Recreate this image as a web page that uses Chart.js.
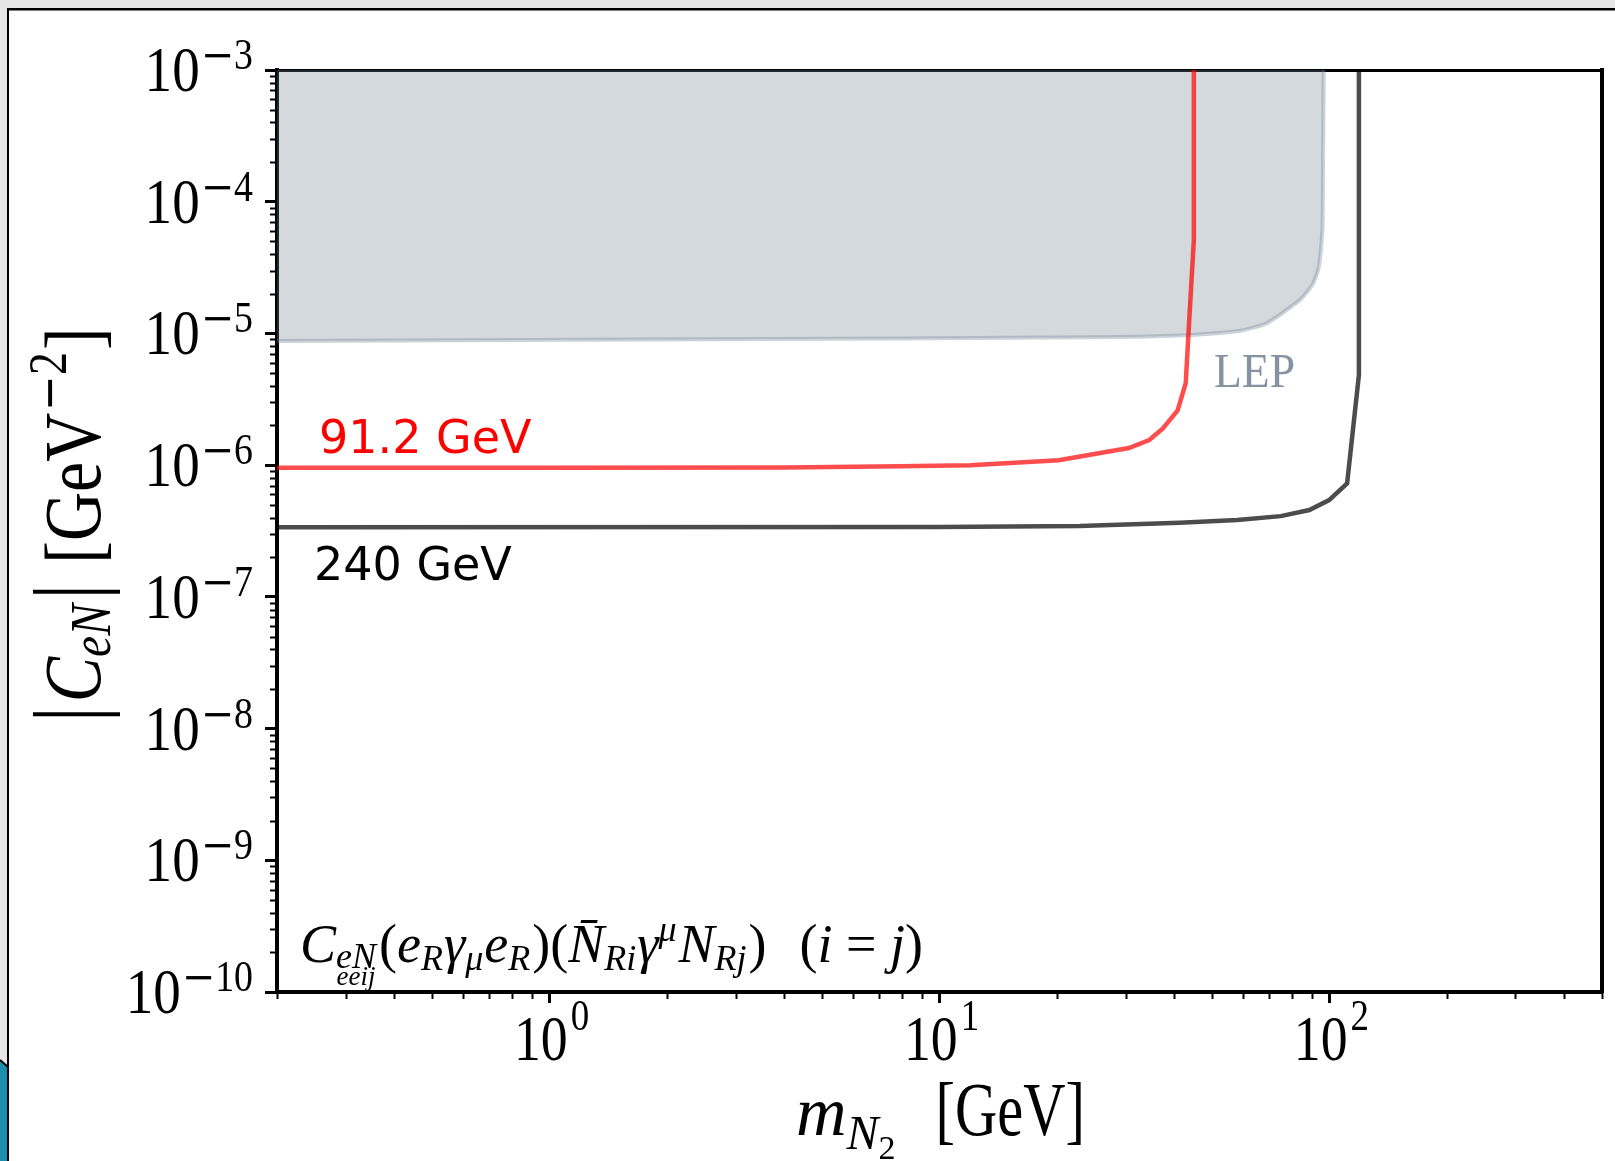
<!DOCTYPE html>
<html>
<head>
<meta charset="utf-8">
<title>|C_eN| vs m_N2</title>
<script src="https://cdn.jsdelivr.net/npm/chart.js@4.4.1/dist/chart.umd.min.js"></script>
<style>
  html, body { margin: 0; padding: 0; background: #fff; }
  #wrap { position: relative; width: 1615px; height: 1161px; }
</style>
</head>
<body>
<div id="wrap"><canvas id="chart"></canvas></div>
<script>
// ---- values (mass in GeV, coupling in GeV^-2) ----
const massRed     = [0.2, 1, 4, 7.9, 12, 20.2, 30.6, 34.5, 37.4, 40.8, 42.8, 43.5, 44.9, 44.9];
const couplingRed = [9.55e-7, 9.55e-7, 9.6e-7, 9.8e-7, 1.0e-6, 1.09e-6, 1.35e-6, 1.55e-6, 1.9e-6, 2.6e-6, 4.2e-6, 1.0e-5, 5.1e-5, 1e-3];

const massBlack     = [0.2, 10, 22.9, 41.3, 58, 75, 88.8, 99.8, 111, 119, 119];
const couplingBlack = [3.37e-7, 3.39e-7, 3.45e-7, 3.66e-7, 3.83e-7, 4.1e-7, 4.56e-7, 5.43e-7, 7.28e-7, 4.83e-6, 1e-3];

const massLEP     = [0.2, 7.9, 19.2, 32.6, 46.5, 58.9, 68.3, 74.6, 80.1, 84.0, 88.0, 90.8, 93.4, 94.5, 96.0, 96.3, 96.7];
const couplingLEP = [8.75e-6, 9.14e-6, 9.31e-6, 9.44e-6, 9.82e-6, 1.047e-5, 1.178e-5, 1.38e-5, 1.614e-5, 1.795e-5, 2.099e-5, 2.399e-5, 2.979e-5, 3.606e-5, 6.457e-5, 2.075e-4, 1e-3];

// axis ticks
const xTickValues    = [1, 10, 100];
const xTickExponents = ['0', '1', '2'];
const yTickValues    = [1e-3, 1e-4, 1e-5, 1e-6, 1e-7, 1e-8, 1e-9, 1e-10];
const yTickExponents = ['3', '4', '5', '6', '7', '8', '9', '10'];

const SERIF = '"Liberation Serif", "Times New Roman", serif';
const SANS = '"DejaVu Sans", sans-serif';
const MINUS_FONT = '"DejaVu Serif", serif';

function toPoints(xs, ys) {
    return xs.map((x, i) => ({ x: x, y: ys[i] }));
}

// minor tick values k*10^d inside [min, max], decades excluded
function minorValues(min, max) {
    const out = [];
    for (let d = Math.floor(Math.log10(min)); d <= Math.ceil(Math.log10(max)); d++) {
        for (let k = 2; k <= 9; k++) {
            const v = k * Math.pow(10, d);
            if (v >= min * 0.999 && v <= max * 1.001) out.push(v);
        }
    }
    return out;
}

function fontOf(r) {
    return (r.it ? 'italic ' : '') + r.s + 'px ' + (r.f || SERIF);
}

// draw a small run of "math" text: sub/superscripts via dy offsets
function drawMath(ctx, runs, x, y, opts) {
    let pos = 0, prevStart = 0, prevW = 0;
    const items = [];
    runs.forEach(r => {
        const sx = r.sx || opts.sx || 1;
        ctx.font = fontOf(r);
        const w = ctx.measureText(r.t).width * sx;
        let start;
        if (r.under) {
            start = prevStart + (prevW - w) / 2;
            pos = Math.max(pos, start + w);
        } else {
            start = pos + (r.gap || 0);
            pos = start + w;
            prevStart = start;
            prevW = w;
        }
        items.push({ r: r, start: start, sx: sx });
    });
    const x0 = opts.align === 'center' ? -pos / 2 : (opts.align === 'right' ? -pos : 0);
    ctx.save();
    ctx.translate(x, y);
    if (opts.rot) ctx.rotate(opts.rot);
    ctx.fillStyle = opts.color || '#000';
    ctx.textAlign = 'left';
    ctx.textBaseline = 'alphabetic';
    items.forEach(it => {
        ctx.save();
        ctx.font = fontOf(it.r);
        ctx.translate(x0 + it.start, it.r.dy || 0);
        ctx.scale(it.sx, 1);
        ctx.fillText(it.r.t, 0, 0);
        ctx.restore();
    });
    ctx.restore();
}

// page background + slide frame
const pagePlugin = {
    id: 'page',
    beforeDraw(chart) {
        const ctx = chart.ctx, W = chart.width, H = chart.height;
        ctx.save();
        ctx.fillStyle = '#ffffff';
        ctx.fillRect(0, 0, W, H);
        ctx.fillStyle = '#e6e6e6';
        ctx.fillRect(0, 0, W, 8);
        ctx.fillRect(0, 0, 8, H);
        ctx.fillStyle = '#1b8fae';
        ctx.beginPath();
        ctx.moveTo(0, 1060); ctx.lineTo(8, 1067); ctx.lineTo(8, H); ctx.lineTo(0, H);
        ctx.closePath();
        ctx.fill();
        ctx.strokeStyle = '#000';
        ctx.lineWidth = 2;
        ctx.beginPath();
        ctx.moveTo(0, 1060); ctx.lineTo(8, 1067);
        ctx.stroke();
        ctx.fillStyle = '#000';
        ctx.fillRect(7, 8, W - 7, 2.5);
        ctx.fillRect(7, 8, 2, H - 8);
        ctx.restore();
    }
};

// minor ticks, tick labels, axis titles and in-plot labels
const textPlugin = {
    id: 'texts',
    afterDraw(chart) {
        const ctx = chart.ctx;
        const xs = chart.scales.x, ys = chart.scales.y;
        const area = chart.chartArea;

        // minor ticks
        ctx.save();
        ctx.strokeStyle = '#000';
        ctx.lineWidth = 2;
        minorValues(1e-10, 1e-3).forEach(v => {
            const py = Math.round(ys.getPixelForValue(v)) + 0.5;
            ctx.beginPath();
            ctx.moveTo(area.left - 7, py);
            ctx.lineTo(area.left, py);
            ctx.stroke();
        });
        minorValues(0.2, 500).forEach(v => {
            const px = Math.round(xs.getPixelForValue(v)) + 0.5;
            ctx.beginPath();
            ctx.moveTo(px, area.bottom);
            ctx.lineTo(px, area.bottom + 7);
            ctx.stroke();
        });
        ctx.restore();

        // y tick labels 10^-k
        yTickValues.forEach((v, i) => {
            const py = ys.getPixelForValue(v);
            drawMath(ctx, [
                { t: '10', s: 64, sx: 0.86 },
                { t: '−', s: 42, f: MINUS_FONT, dy: -22, gap: 1, sx: 0.95 },
                { t: yTickExponents[i], s: 44, dy: -22, sx: 0.86 }
            ], area.left - 24, py + 21, { align: 'right' });
        });

        // x tick labels 10^k
        xTickValues.forEach((v, i) => {
            const px = xs.getPixelForValue(v);
            drawMath(ctx, [
                { t: '10', s: 64, sx: 0.84 },
                { t: xTickExponents[i], s: 44, dy: -30, gap: 3, sx: 0.84 }
            ], px + 2, area.bottom + 68, { align: 'center' });
        });

        // x axis title
        drawMath(ctx, [
            { t: 'm', s: 70, it: true, sx: 1.0 },
            { t: 'N', s: 48, it: true, dy: 14, sx: 1.0 },
            { t: '2', s: 34, dy: 24, sx: 1.0 },
            { t: '[GeV]', s: 76, gap: 40, sx: 0.77 }
        ], 796, 1135, { align: 'left' });

        // y axis title (rotated)
        drawMath(ctx, [
            { t: '|', s: 96 },
            { t: 'C', s: 80, it: true, gap: 4 },
            { t: 'eN', s: 56, it: true, dy: 10 },
            { t: '|', s: 96, gap: 4 },
            { t: '[GeV', s: 80, gap: 20 },
            { t: '−', s: 50, f: MINUS_FONT, dy: -34, gap: 2 },
            { t: '2', s: 54, dy: -34 },
            { t: ']', s: 80, gap: 2 }
        ], 100, 525, { align: 'center', rot: -Math.PI / 2, sx: 0.85 });

        // operator annotation
        drawMath(ctx, [
            { t: 'C', s: 54, it: true },
            { t: 'eN', s: 36, it: true, dy: 6 },
            { t: 'eeij', s: 27, it: true, dy: 23, under: true },
            { t: '(', s: 54, gap: 3 },
            { t: 'e', s: 54, it: true },
            { t: 'R', s: 36, it: true, dy: 8 },
            { t: 'γ', s: 54, it: true, gap: 1 },
            { t: 'μ', s: 36, it: true, dy: 8 },
            { t: 'e', s: 54, it: true, gap: 1 },
            { t: 'R', s: 36, it: true, dy: 8 },
            { t: ')(', s: 54, gap: 2 },
            { t: 'N\u0304', s: 54, it: true },
            { t: 'Ri', s: 36, it: true, dy: 8 },
            { t: 'γ', s: 54, it: true, gap: 1 },
            { t: 'μ', s: 36, it: true, dy: -21 },
            { t: 'N', s: 54, it: true, gap: 2 },
            { t: 'Rj', s: 36, it: true, dy: 8 },
            { t: ')', s: 54, gap: 2 },
            { t: '(', s: 54, gap: 33 },
            { t: 'i', s: 54, it: true },
            { t: ' = ', s: 54 },
            { t: 'j', s: 54, it: true },
            { t: ')', s: 54 }
        ], 300, 962, { align: 'left', sx: 1 });

        // curve labels
        ctx.save();
        ctx.font = '46px ' + SANS;
        ctx.textAlign = 'left';
        ctx.textBaseline = 'alphabetic';
        ctx.fillStyle = '#ff0000';
        ctx.fillText('91.2 GeV', 319, 453);
        ctx.fillStyle = '#000000';
        ctx.fillText('240 GeV', 314, 580);
        ctx.restore();

        drawMath(ctx, [{ t: 'LEP', s: 48 }], 1214, 387, { align: 'left', sx: 0.95, color: 'rgba(112,128,144,0.85)' });
    }
};

const chart = new Chart(document.getElementById('chart'), {
    type: 'line',
    data: {
        datasets: [
            {
                label: '91.2 GeV',
                data: toPoints(massRed, couplingRed),
                borderColor: 'rgba(255,0,0,0.7)',
                borderWidth: 4.5,
                pointRadius: 0,
                fill: false,
                order: 1
            },
            {
                label: '240 GeV',
                data: toPoints(massBlack, couplingBlack),
                borderColor: 'rgba(0,0,0,0.7)',
                borderWidth: 4.5,
                pointRadius: 0,
                fill: false,
                order: 2
            },
            {
                label: 'LEP',
                data: toPoints(massLEP, couplingLEP),
                borderColor: 'rgba(112,128,144,0.35)',
                backgroundColor: 'rgba(112,128,144,0.3)',
                borderWidth: 4,
                pointRadius: 0,
                tension: 0.2,
                fill: 'end',
                order: 3
            }
        ]
    },
    options: {
        responsive: true,
        maintainAspectRatio: false,
        animation: false,
        devicePixelRatio: 1,
        layout: { padding: 0 },
        plugins: {
            legend: { display: false },
            tooltip: { enabled: false }
        },
        scales: {
            x: {
                type: 'logarithmic',
                position: 'bottom',
                min: 0.2,
                max: 500,
                afterBuildTicks: s => { s.ticks = xTickValues.map(v => ({ value: v })); },
                afterFit: s => { s.height = 169; },
                ticks: { display: false },
                grid: { display: true, drawOnChartArea: false, drawTicks: true, tickLength: 11, tickWidth: 3, tickColor: '#000' },
                border: { display: true, color: '#000', width: 4 }
            },
            y: {
                type: 'logarithmic',
                position: 'left',
                min: 1e-10,
                max: 1e-3,
                afterBuildTicks: s => { s.ticks = yTickValues.map(v => ({ value: v })); },
                afterFit: s => { s.width = 277; },
                ticks: { display: false },
                grid: { display: true, drawOnChartArea: false, drawTicks: true, tickLength: 12, tickWidth: 3, tickColor: '#000' },
                border: { display: true, color: '#000', width: 4 }
            },
            xTop: {
                type: 'linear',
                position: 'top',
                min: 0,
                max: 1,
                afterFit: s => { s.height = 70; },
                ticks: { display: false },
                grid: { display: false },
                border: { display: true, color: '#000', width: 3 }
            },
            yRight: {
                type: 'linear',
                position: 'right',
                min: 0,
                max: 1,
                afterFit: s => { s.width = 13; },
                ticks: { display: false },
                grid: { display: false },
                border: { display: true, color: '#000', width: 4 }
            }
        }
    },
    plugins: [pagePlugin, textPlugin]
});
</script>
</body>
</html>
